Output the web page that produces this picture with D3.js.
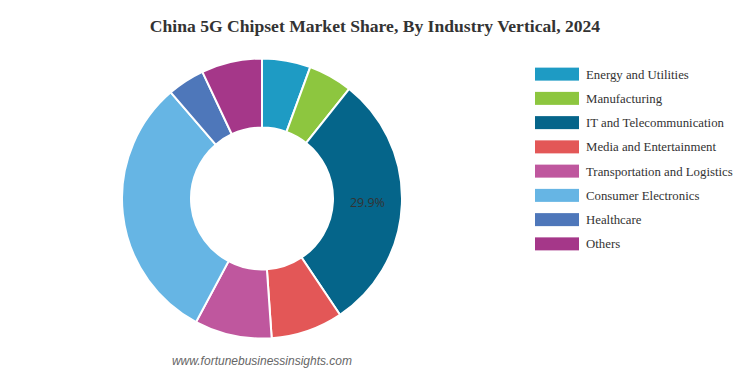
<!DOCTYPE html>
<html>
<head>
<meta charset="utf-8">
<script src="https://cdnjs.cloudflare.com/ajax/libs/d3/7.8.5/d3.min.js"></script>
<style>
  body { margin: 0; background: #fff; }
</style>
</head>
<body>
<div id="chart"></div>
<script>
var categories = ["Energy and Utilities", "Manufacturing", "IT and Telecommunication",
  "Media and Entertainment", "Transportation and Logistics", "Consumer Electronics",
  "Healthcare", "Others"];
var shares = [5.6, 5.1, 29.9, 8.3, 8.9, 30.9, 4.3, 7.0];
var colors = ["#1e9bc4", "#8dc63f", "#05658a", "#e35757", "#bf579e", "#66b5e4", "#4e77ba", "#a53789"];
var labelled = ["IT and Telecommunication"];

var width = 748,
  height = 374;

var svg = d3.select("#chart")
  .append("svg")
  .attr("width", width)
  .attr("height", height);

svg.append("text")
  .attr("x", 375)
  .attr("y", 32)
  .attr("text-anchor", "middle")
  .attr("font-family", "Liberation Serif, Times New Roman, serif")
  .attr("font-weight", "bold")
  .attr("font-size", 17.6)
  .attr("fill", "#333")
  .text("China 5G Chipset Market Share, By Industry Vertical, 2024");

var data = categories.map(function (c, i) {
  return { name: c, value: shares[i] };
});

var color = d3.scaleOrdinal().domain(categories).range(colors);

var pie = d3.pie().sort(null).value(function (d) { return d.value; });
var arc = d3.arc().innerRadius(71).outerRadius(140);

var g = svg.append("g").attr("transform", "translate(262,198.5)");

g.selectAll("path")
  .data(pie(data))
  .enter().append("path")
  .attr("d", arc)
  .attr("fill", function (d) { return color(d.data.name); })
  .attr("stroke", "#fff")
  .attr("stroke-width", 2);

g.selectAll("text")
  .data(pie(data).filter(function (d) { return labelled.indexOf(d.data.name) >= 0; }))
  .enter().append("text")
  .attr("transform", function (d) { return "translate(" + arc.centroid(d) + ")"; })
  .attr("dy", "0.35em")
  .attr("text-anchor", "middle")
  .attr("font-family", "Open Sans, sans-serif")
  .attr("font-size", 12.5)
  .attr("fill", "#333")
  .text(function (d) { return d.data.value.toFixed(1) + "%"; });

// legend
var y = d3.scaleBand().domain(categories).range([62, 256]);

var legend = svg.append("g").selectAll("g")
  .data(categories)
  .enter().append("g")
  .attr("transform", function (d) { return "translate(535," + y(d) + ")"; });

legend.append("rect")
  .attr("y", (y.bandwidth() - 13) / 2)
  .attr("width", 44)
  .attr("height", 13)
  .attr("fill", function (d) { return color(d); });

legend.append("text")
  .attr("x", 51)
  .attr("y", y.bandwidth() / 2)
  .attr("dy", "0.35em")
  .attr("font-family", "Liberation Serif, Times New Roman, serif")
  .attr("font-size", 12.8)
  .attr("fill", "#333")
  .text(function (d) { return d; });

svg.append("text")
  .attr("x", 262)
  .attr("y", 365)
  .attr("text-anchor", "middle")
  .attr("font-family", "Liberation Sans, Arial, sans-serif")
  .attr("font-style", "italic")
  .attr("font-size", 12)
  .attr("fill", "#666")
  .text("www.fortunebusinessinsights.com");
</script>
</body>
</html>
